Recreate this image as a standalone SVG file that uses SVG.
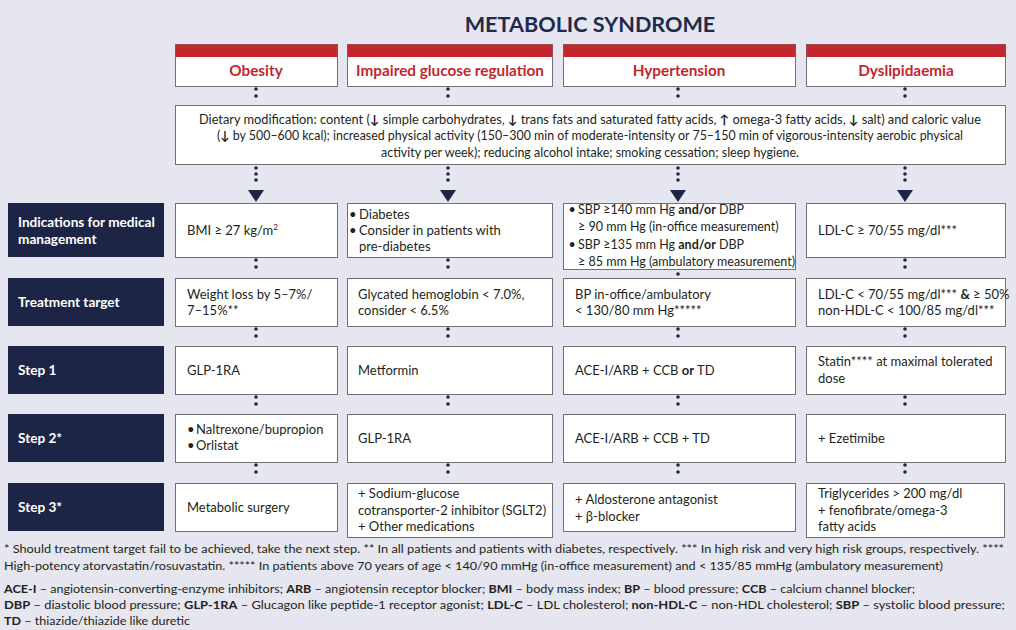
<svg xmlns="http://www.w3.org/2000/svg" width="1016" height="630" viewBox="0 0 1016 630">
<style>
text{font-family:Lato,"Open Sans","Liberation Sans",sans-serif;fill:#231f20}
.t{font-size:13px}
.ts{font-size:12.5px}
.d{font-size:12.5px}
.f{font-size:12px}
.b{font-weight:bold}
.hd{font-size:15.3px;font-weight:bold;fill:#c1272d;text-anchor:middle}
.lb{font-size:13.6px;font-weight:bold;fill:#ffffff}
.box{fill:#ffffff;stroke:#707176;stroke-width:1}
.nav{fill:#1d2547}
.red{fill:#c4262e}
.dots{stroke:#1d2547;stroke-width:3.6;stroke-linecap:round;fill:none}
.dots6{stroke-dasharray:0 6}
.dots7{stroke-dasharray:0 7}
.arr{fill:#1d2547}
</style>
<rect x="0" y="0" width="1016" height="630" fill="#e5e6ef"/>
<text x="590" y="32" text-anchor="middle" style="font-size:21.6px;font-weight:bold;fill:#1f2a4d">METABOLIC SYNDROME</text>

<g id="connectors">
<line class="dots dots7" x1="256" y1="89" x2="256" y2="103"/>
<line class="dots dots7" x1="448" y1="89" x2="448" y2="103"/>
<line class="dots dots7" x1="678" y1="89" x2="678" y2="103"/>
<line class="dots dots7" x1="905" y1="89" x2="905" y2="103"/>
<line class="dots dots6" x1="256" y1="168" x2="256" y2="186"/>
<line class="dots dots6" x1="448" y1="168" x2="448" y2="186"/>
<line class="dots dots6" x1="678" y1="168" x2="678" y2="186"/>
<line class="dots dots6" x1="905" y1="168" x2="905" y2="186"/>
<polygon class="arr" points="248,190 264,190 256,202"/>
<polygon class="arr" points="440,190 456,190 448,202"/>
<polygon class="arr" points="670,190 686,190 678,202"/>
<polygon class="arr" points="897,190 913,190 905,202"/>
<line class="dots dots7" x1="256" y1="260" x2="256" y2="274"/>
<line class="dots dots7" x1="448" y1="260" x2="448" y2="274"/>
<line class="dots dots7" x1="678" y1="274" x2="678" y2="274"/>
<line class="dots dots7" x1="905" y1="260" x2="905" y2="274"/>
<line class="dots dots7" x1="256" y1="329" x2="256" y2="343"/>
<line class="dots dots7" x1="448" y1="329" x2="448" y2="343"/>
<line class="dots dots7" x1="678" y1="329" x2="678" y2="343"/>
<line class="dots dots7" x1="905" y1="329" x2="905" y2="343"/>
<line class="dots dots7" x1="256" y1="397" x2="256" y2="411"/>
<line class="dots dots7" x1="448" y1="397" x2="448" y2="411"/>
<line class="dots dots7" x1="678" y1="397" x2="678" y2="411"/>
<line class="dots dots7" x1="905" y1="397" x2="905" y2="411"/>
<line class="dots dots7" x1="256" y1="465" x2="256" y2="479"/>
<line class="dots dots7" x1="448" y1="465" x2="448" y2="479"/>
<line class="dots dots7" x1="678" y1="465" x2="678" y2="479"/>
<line class="dots dots7" x1="905" y1="465" x2="905" y2="479"/>
</g>

<g id="h-obesity">
<rect class="box" x="175.5" y="44.5" width="162" height="42"/>
<rect class="red" x="175.5" y="44.5" width="162" height="12.5"/>
<text class="hd" x="256" y="76">Obesity</text>
</g>
<g id="h-glucose">
<rect class="box" x="347.5" y="44.5" width="205" height="42"/>
<rect class="red" x="347.5" y="44.5" width="205" height="12.5"/>
<text class="hd" x="450" y="76">Impaired glucose regulation</text>
</g>
<g id="h-hypertension">
<rect class="box" x="563.5" y="44.5" width="232" height="42"/>
<rect class="red" x="563.5" y="44.5" width="232" height="12.5"/>
<text class="hd" x="679" y="76">Hypertension</text>
</g>
<g id="h-dyslipidaemia">
<rect class="box" x="806.5" y="44.5" width="199" height="42"/>
<rect class="red" x="806.5" y="44.5" width="199" height="12.5"/>
<text class="hd" x="906" y="76">Dyslipidaemia</text>
</g>

<g id="lifestyle">
<rect class="box" x="175.5" y="105.5" width="830" height="59"/>
<text class="d" x="590" y="124" text-anchor="middle" textLength="782" lengthAdjust="spacingAndGlyphs">Dietary modification: content (<tspan class="b">↓</tspan> simple carbohydrates, <tspan class="b">↓</tspan> trans fats and saturated fatty acids, <tspan class="b">↑</tspan> omega-3 fatty acids, <tspan class="b">↓</tspan> salt) and caloric value</text>
<text class="d" x="590" y="140" text-anchor="middle" textLength="746" lengthAdjust="spacingAndGlyphs">(<tspan class="b">↓</tspan> by 500–600 kcal); increased physical activity (150–300 min of moderate-intensity or 75–150 min of vigorous-intensity aerobic physical</text>
<text class="d" x="590" y="157" text-anchor="middle" textLength="418" lengthAdjust="spacingAndGlyphs">activity per week); reducing alcohol intake; smoking cessation; sleep hygiene.</text>
</g>

<g id="l-indications">
<rect class="nav" x="8" y="203" width="156" height="54"/>
<text class="lb" x="18" y="227">Indications for medical</text>
<text class="lb" x="18" y="244">management</text>
</g>
<g id="l-target">
<rect class="nav" x="8" y="278" width="156" height="48"/>
<text class="lb" x="18" y="307">Treatment target</text>
</g>
<g id="l-step1">
<rect class="nav" x="8" y="346" width="156" height="48"/>
<text class="lb" x="18" y="375">Step 1</text>
</g>
<g id="l-step2">
<rect class="nav" x="8" y="414" width="156" height="48"/>
<text class="lb" x="18" y="443">Step 2*</text>
</g>
<g id="l-step3">
<rect class="nav" x="8" y="483" width="156" height="48"/>
<text class="lb" x="18" y="512">Step 3*</text>
</g>

<g id="ind-obesity">
<rect class="box" x="175.5" y="203.5" width="162" height="54"/>
<text class="t" x="187" y="235">BMI ≥ 27 kg/m<tspan font-size="8" dy="-5">2</tspan></text>
</g>
<g id="ind-glucose">
<rect class="box" x="347.5" y="203.5" width="205" height="54"/>
<text class="t" x="349" y="219">•</text><text class="t" x="359" y="219">Diabetes</text>
<text class="t" x="349" y="235">•</text><text class="t" x="359" y="235">Consider in patients with</text>
<text class="t" x="359" y="251">pre-diabetes</text>
</g>
<g id="ind-hypertension">
<rect class="box" x="563.5" y="203.5" width="232" height="66"/>
<text class="ts" x="568.5" y="214">•</text><text class="ts" x="578" y="214">SBP ≥140 mm Hg <tspan class="b">and/or</tspan> DBP</text>
<text class="ts" x="578" y="231">≥ 90 mm Hg (in-office measurement)</text>
<text class="ts" x="568.5" y="249">•</text><text class="ts" x="578" y="249">SBP ≥135 mm Hg <tspan class="b">and/or</tspan> DBP</text>
<text class="ts" x="578" y="266">≥ 85 mm Hg (ambulatory measurement)</text>
</g>
<g id="ind-dyslipidaemia">
<rect class="box" x="806.5" y="203.5" width="199" height="54"/>
<text class="t" x="818" y="235">LDL-C ≥ 70/55 mg/dl***</text>
</g>

<g id="tt-obesity">
<rect class="box" x="175.5" y="278.5" width="162" height="48"/>
<text class="t" x="187" y="299">Weight loss by 5–7%/</text>
<text class="t" x="187" y="315">7–15%**</text>
</g>
<g id="tt-glucose">
<rect class="box" x="347.5" y="278.5" width="205" height="48"/>
<text class="t" x="358" y="299">Glycated hemoglobin &lt; 7.0%,</text>
<text class="t" x="358" y="315">consider &lt; 6.5%</text>
</g>
<g id="tt-hypertension">
<rect class="box" x="563.5" y="278.5" width="232" height="48"/>
<text class="t" x="575" y="299">BP in-office/ambulatory</text>
<text class="t" x="575" y="315">&lt; 130/80 mm Hg*****</text>
</g>
<g id="tt-dyslipidaemia">
<rect class="box" x="806.5" y="278.5" width="199" height="48"/>
<text class="t" x="818" y="299">LDL-C &lt; 70/55 mg/dl*** <tspan class="b">&amp;</tspan> ≥ 50%</text>
<text class="t" x="818" y="315">non-HDL-C &lt; 100/85 mg/dl***</text>
</g>

<g id="s1-obesity">
<rect class="box" x="175.5" y="346.5" width="162" height="48"/>
<text class="t" x="187" y="375">GLP-1RA</text>
</g>
<g id="s1-glucose">
<rect class="box" x="347.5" y="346.5" width="205" height="48"/>
<text class="t" x="358" y="375">Metformin</text>
</g>
<g id="s1-hypertension">
<rect class="box" x="563.5" y="346.5" width="232" height="48"/>
<text class="t" x="575" y="375">ACE-I/ARB + CCB <tspan class="b">or</tspan> TD</text>
</g>
<g id="s1-dyslipidaemia">
<rect class="box" x="806.5" y="346.5" width="199" height="48"/>
<text class="t" x="818" y="366">Statin**** at maximal tolerated</text>
<text class="t" x="818" y="383">dose</text>
</g>

<g id="s2-obesity">
<rect class="box" x="175.5" y="414.5" width="162" height="48"/>
<text class="t" x="187" y="434">•</text><text class="t" x="196" y="434">Naltrexone/bupropion</text>
<text class="t" x="187" y="450">•</text><text class="t" x="196" y="450">Orlistat</text>
</g>
<g id="s2-glucose">
<rect class="box" x="347.5" y="414.5" width="205" height="48"/>
<text class="t" x="358" y="443">GLP-1RA</text>
</g>
<g id="s2-hypertension">
<rect class="box" x="563.5" y="414.5" width="232" height="48"/>
<text class="t" x="575" y="443">ACE-I/ARB + CCB + TD</text>
</g>
<g id="s2-dyslipidaemia">
<rect class="box" x="806.5" y="414.5" width="199" height="48"/>
<text class="t" x="818" y="443">+ Ezetimibe</text>
</g>

<g id="s3-obesity">
<rect class="box" x="175.5" y="483.5" width="162" height="48"/>
<text class="t" x="187" y="512">Metabolic surgery</text>
</g>
<g id="s3-glucose">
<rect class="box" x="347.5" y="483.5" width="205" height="54"/>
<text class="t" x="358" y="498">+ Sodium-glucose</text>
<text class="t" x="358" y="515">cotransporter-2 inhibitor (SGLT2)</text>
<text class="t" x="358" y="531">+ Other medications</text>
</g>
<g id="s3-hypertension">
<rect class="box" x="563.5" y="483.5" width="232" height="48"/>
<text class="t" x="575" y="504">+ Aldosterone antagonist</text>
<text class="t" x="575" y="521">+ β-blocker</text>
</g>
<g id="s3-dyslipidaemia">
<rect class="box" x="806.5" y="483.5" width="198" height="54"/>
<text class="t" x="818" y="498">Triglycerides &gt; 200 mg/dl</text>
<text class="t" x="818" y="515">+ fenofibrate/omega-3</text>
<text class="t" x="818" y="531">fatty acids</text>
</g>

<g id="footnotes">
<text class="f" x="4" y="553" textLength="1000" lengthAdjust="spacingAndGlyphs">* Should treatment target fail to be achieved, take the next step. ** In all patients and patients with diabetes, respectively. *** In high risk and very high risk groups, respectively. ****</text>
<text class="f" x="4" y="570" textLength="939" lengthAdjust="spacingAndGlyphs">High-potency atorvastatin/rosuvastatin. ***** In patients above 70 years of age &lt; 140/90 mmHg (in-office measurement) and &lt; 135/85 mmHg (ambulatory measurement)</text>
<text class="f" x="4" y="593" textLength="911" lengthAdjust="spacingAndGlyphs"><tspan class="b">ACE-I</tspan> – angiotensin-converting-enzyme inhibitors; <tspan class="b">ARB</tspan> – angiotensin receptor blocker; <tspan class="b">BMI</tspan> – body mass index; <tspan class="b">BP</tspan> – blood pressure; <tspan class="b">CCB</tspan> – calcium channel blocker;</text>
<text class="f" x="4" y="609" textLength="1001" lengthAdjust="spacingAndGlyphs"><tspan class="b">DBP</tspan> – diastolic blood pressure; <tspan class="b">GLP-1RA</tspan> – Glucagon like peptide-1 receptor agonist; <tspan class="b">LDL-C</tspan> – LDL cholesterol; <tspan class="b">non-HDL-C</tspan> – non-HDL cholesterol; <tspan class="b">SBP</tspan> – systolic blood pressure;</text>
<text class="f" x="4" y="625" textLength="186" lengthAdjust="spacingAndGlyphs"><tspan class="b">TD</tspan> – thiazide/thiazide like duretic</text>
</g>
</svg>
